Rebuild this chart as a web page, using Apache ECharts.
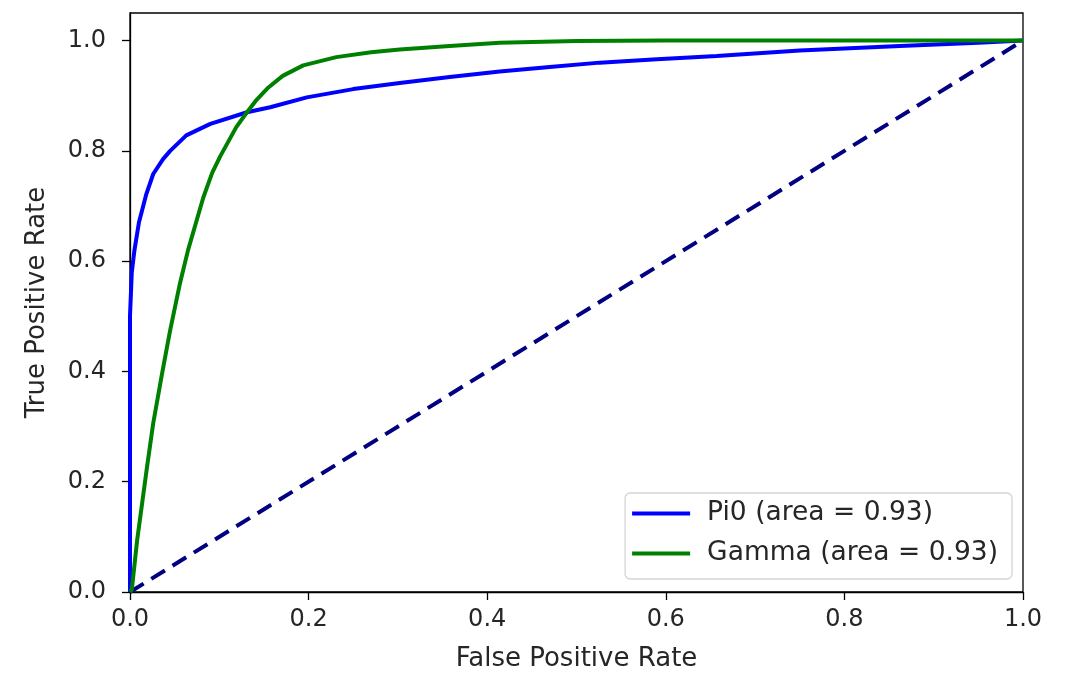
<!DOCTYPE html>
<html><head><meta charset="utf-8">
<script src="https://cdn.jsdelivr.net/npm/echarts@6/dist/echarts.min.js"></script>
<style>html,body{margin:0;padding:0;background:#fff}#c{width:1072px;height:677px}</style>
</head><body><div id="c"></div>
<script>
const tickValues = [0, 0.2, 0.4, 0.6, 0.8, 1.0];
const pi0Fpr = [0, 0, 0.002, 0.005, 0.01, 0.018, 0.026, 0.037, 0.045, 0.063, 0.09, 0.131, 0.157, 0.198, 0.25, 0.302, 0.358, 0.414, 0.47, 0.526, 0.59, 0.657, 0.75, 0.862, 0.95, 1.0];
const pi0Tpr = [0, 0.5, 0.58, 0.62, 0.67, 0.72, 0.758, 0.785, 0.80, 0.828, 0.849, 0.870, 0.879, 0.897, 0.912, 0.923, 0.934, 0.944, 0.952, 0.960, 0.966, 0.972, 0.982, 0.990, 0.996, 1.0];
const gammaFpr = [0, 0.002, 0.008, 0.019, 0.026, 0.036, 0.045, 0.056, 0.065, 0.082, 0.092, 0.101, 0.119, 0.131, 0.142, 0.155, 0.171, 0.194, 0.231, 0.27, 0.302, 0.358, 0.414, 0.5, 0.6, 1.0];
const gammaTpr = [0, 0.004, 0.094, 0.226, 0.306, 0.397, 0.475, 0.56, 0.62, 0.715, 0.76, 0.790, 0.843, 0.870, 0.893, 0.915, 0.936, 0.955, 0.970, 0.979, 0.984, 0.990, 0.996, 0.999, 1.0, 1.0];
const diagX = [0, 1];
const diagY = [0, 1];
const pi0Name = 'Pi0 (area = 0.93)';
const gammaName = 'Gamma (area = 0.93)';

const zip = (a, b) => a.map((v, i) => [v, b[i]]);
const font = 'DejaVu Sans';
const chart = echarts.init(document.getElementById('c'), null, {renderer: 'canvas'});
const axisCommon = {
  type: 'value',
  interval: 0.2,
  axisLine: {show: true, onZero: false, lineStyle: {color: '#000', width: 1.3}},
  axisTick: {show: true, length: 8, lineStyle: {color: '#000', width: 1.3}, customValues: tickValues},
  axisLabel: {color: '#262626', fontFamily: font, fontSize: 24, customValues: tickValues,
              formatter: v => v.toFixed(1)},
  splitLine: {show: false},
  nameLocation: 'middle',
  nameTextStyle: {color: '#262626', fontFamily: font, fontSize: 26}
};
chart.setOption({
  animation: false,
  backgroundColor: '#fff',
  grid: {left: 130, right: 49, top: 13, bottom: 85, show: true, borderColor: '#000', borderWidth: 1.3, backgroundColor: 'transparent'},
  xAxis: Object.assign({}, axisCommon, {min: 0, max: 1, name: 'False Positive Rate', nameGap: 54,
    axisLabel: Object.assign({}, axisCommon.axisLabel, {margin: 16})}),
  yAxis: Object.assign({}, axisCommon, {min: 0, max: 1.05, name: 'True Positive Rate', nameGap: 80,
    axisLabel: Object.assign({}, axisCommon.axisLabel, {margin: 24})}),
  legend: {
    data: [pi0Name, gammaName],
    orient: 'vertical',
    right: 60, bottom: 98,
    backgroundColor: '#fff',
    borderColor: '#d5d5d5', borderWidth: 1.3, borderRadius: 5,
    padding: [7, 14, 12, 7],
    itemGap: 13,
    itemWidth: 58, itemHeight: 30,
    icon: 'path://M0,0 L58,0 L58,4 L0,4 Z',
    textStyle: {color: '#262626', fontFamily: font, fontSize: 26.5, padding: [0, 0, 0, 12]}
  },
  series: [
    {name: pi0Name, type: 'line', data: zip(pi0Fpr, pi0Tpr), showSymbol: false, symbol: 'none',
     lineStyle: {color: '#0000ff', width: 4}, itemStyle: {color: '#0000ff'}, z: 3},
    {name: gammaName, type: 'line', data: zip(gammaFpr, gammaTpr), showSymbol: false, symbol: 'none',
     lineStyle: {color: '#008000', width: 4}, itemStyle: {color: '#008000'}, z: 3},
    {name: 'diag', type: 'line', data: zip(diagX, diagY), showSymbol: false, symbol: 'none',
     lineStyle: {color: '#000080', width: 4, type: [16, 9]}, z: 2}
  ]
});
</script></body></html>
